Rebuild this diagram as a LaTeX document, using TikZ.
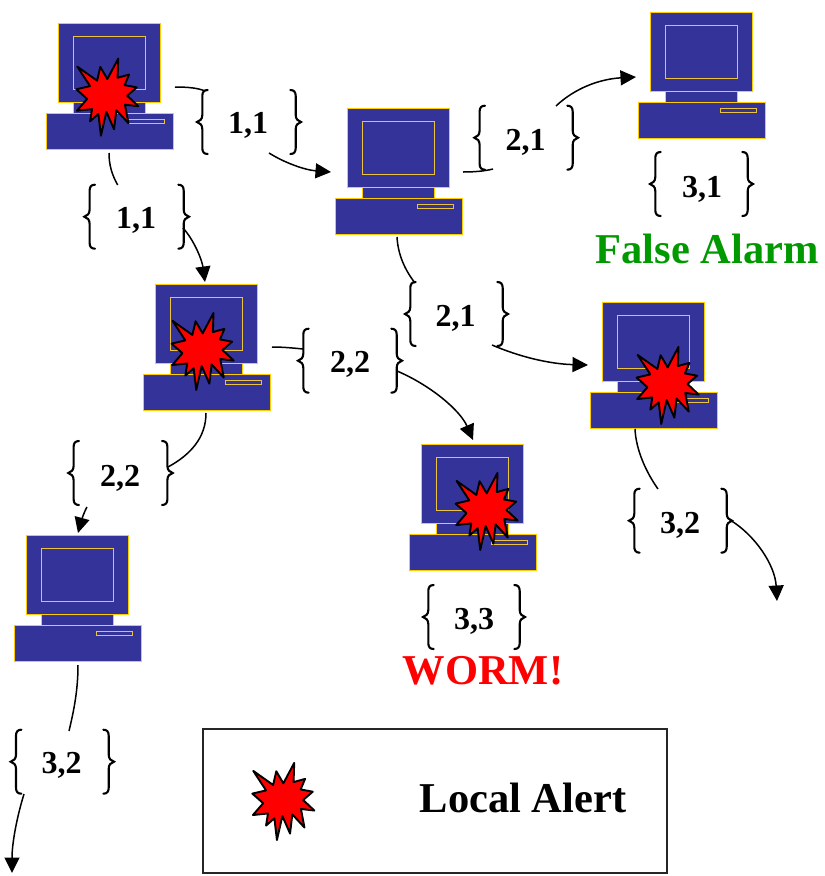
\documentclass[tikz,border=0pt]{standalone}
\usepackage{fontspec}
\setmainfont{Liberation Serif}
\usetikzlibrary{arrows.meta}
\definecolor{pcblue}{RGB}{51,51,153}
\definecolor{pcgold}{RGB}{255,204,0}
\definecolor{screenline}{RGB}{235,195,60}
\definecolor{alarmgreen}{RGB}{0,153,0}
\tikzset{
  pcpart/.style={draw=pcgold,fill=pcblue,line width=0.9pt},
  pcinner/.style={draw=screenline,fill=pcblue,line width=0.6pt},
  burst/.style={draw=black,fill=red,line width=1.9pt,line join=round},
  curlyline/.style={draw=black,line width=2.1pt,line cap=round},
  link/.style={draw=black,line width=1.5pt},
  linkarrow/.style={link,-{Triangle[length=15.5pt,width=15pt]}},
  count/.style={font=\fontsize{32}{36}\selectfont\bfseries,inner sep=0pt,anchor=base},
  banner/.style={font=\fontsize{42.5}{48}\selectfont\bfseries,inner sep=0pt,anchor=base},
  pics/computer/.style={code={
    \path[pcpart] (15,79) rectangle (87,90);
    \path[pcpart] (0,0) rectangle (102,79);
    \path[pcinner] (15,13) rectangle (87,66);
    \path[pcpart] (-12,90) rectangle (115,126);
    \path[pcinner] (70,96) rectangle (106,100);
  }},
  pics/alert/.style={code={
    \begin{scope}[scale=0.32]
    \path[burst] (-92,-91) -- (-30,-47) -- (-20,-90) -- (2,-52) -- (36,-116) -- (34,-56)
      -- (70,-66) -- (56,-33) -- (94,-26) -- (64,0) -- (99,33) -- (57,28) -- (68,86)
      -- (30,45) -- (23,105) -- (-1,50) -- (-18,125) -- (-26,57) -- (-52,80) -- (-46,42)
      -- (-93,47) -- (-61,10) -- (-95,-20) -- (-52,-30) -- cycle;
    \end{scope}
  }},
  pics/curlypair/.style={code={
    \path[curlyline] (10.7,-32) .. controls (7,-32) and (5.3,-30) .. (5.3,-26) -- (5.3,-7)
      .. controls (5.3,-3) and (3,-0.8) .. (0,0) .. controls (3,0.8) and (5.3,3) .. (5.3,7)
      -- (5.3,26) .. controls (5.3,30) and (7,32) .. (10.7,32);
    \path[curlyline] (#1-10.7,-32) .. controls (#1-7,-32) and (#1-5.3,-30) .. (#1-5.3,-26) -- (#1-5.3,-7)
      .. controls (#1-5.3,-3) and (#1-3,-0.8) .. (#1,0) .. controls (#1-3,0.8) and (#1-5.3,3) .. (#1-5.3,7)
      -- (#1-5.3,26) .. controls (#1-5.3,30) and (#1-7,32) .. (#1-10.7,32);
  }},
}
\begin{document}
\begin{tikzpicture}[x=1pt,y=-1pt]
\path[use as bounding box,fill=white] (0,0) rectangle (825,876);
% computers
\pic at (58,23) {computer};
\pic at (347,108) {computer};
\pic at (650,12) {computer};
\pic at (155,284) {computer};
\pic at (602,302) {computer};
\pic at (421,444) {computer};
\pic at (26,535) {computer};
% alerts
\pic at (106.7,95.7) {alert};
\pic at (202,350) {alert};
\pic at (667,384) {alert};
\pic at (486,510) {alert};
\pic at (282.7,800) {alert};
% curly pairs
\pic at (197,122) {curlypair=104};
\pic at (84.3,216.7) {curlypair=104.7};
\pic at (474.3,137.7) {curlypair=103.7};
\pic at (650,184) {curlypair=103};
\pic at (405,314) {curlypair=103};
\pic at (298,360.7) {curlypair=104};
\pic at (68.3,473) {curlypair=104.4};
\pic at (629,520.7) {curlypair=103};
\pic at (423,617) {curlypair=102};
\pic at (10.7,761.7) {curlypair=103.3};
% counts
\node[count] (n1) at (248,133.5) {1,1};
\node[count] (n2) at (136,228) {1,1};
\node[count] (n3) at (525.7,150) {2,1};
\node[count] (n4) at (702,197) {3,1};
\node[count] (n5) at (455.7,326) {2,1};
\node[count] (n6) at (350,372.5) {2,2};
\node[count] (n7) at (120,486.5) {2,2};
\node[count] (n8) at (680,533) {3,2};
\node[count] (n9) at (474,629) {3,3};
\node[count] (n10) at (61.7,773) {3,2};
% banners
\node[banner,text=alarmgreen] (falsealarm) at (707,263) {False Alarm};
\node[banner,text=red] (worm) at (483,684) {WORM!};
% legend
\draw[line width=1.6pt,draw=black!85] (203,729) rectangle (667,873);
\node[banner] (legendtext) at (523,812) {Local Alert};
% connector ends
\coordinate (a1) at (175,87);   \coordinate (a2) at (205,91);
\coordinate (b1) at (269,153);  \coordinate (b2) at (331,172);
\coordinate (c1) at (109,153);  \coordinate (c2) at (117.7,185);
\coordinate (d1) at (183,228);  \coordinate (d2) at (205,282);
\coordinate (e1) at (463,172);  \coordinate (e2) at (493,169);
\coordinate (f1) at (556,106);  \coordinate (f2) at (636,77);
\coordinate (g1) at (397,237);  \coordinate (g2) at (415,283);
\coordinate (h1) at (492,345);  \coordinate (h2) at (588,365);
\coordinate (i1) at (272,347);  \coordinate (i2) at (303,349);
\coordinate (j1) at (397,371);  \coordinate (j2) at (473,440);
\coordinate (k1) at (206,413);  \coordinate (k2) at (168,467);
\coordinate (l1) at (87,507);   \coordinate (l2) at (78,533);
\coordinate (m1) at (635,429);  \coordinate (m2) at (658,489);
\coordinate (o1) at (730,520);  \coordinate (o2) at (777,601);
\coordinate (p1) at (78,665);   \coordinate (p2) at (69,731);
\coordinate (q1) at (24,794);   \coordinate (q2) at (12,873);
% connectors
\draw[link] (a1) .. controls (188,87) and (198,88) .. (a2);
\draw[linkarrow] (b1) .. controls (285,163) and (305,170) .. (b2);
\draw[link] (c1) .. controls (109,165) and (112,175) .. (c2);
\draw[linkarrow] (d1) .. controls (194,240) and (202,260) .. (d2);
\draw[link] (e1) .. controls (475,172) and (485,171) .. (e2);
\draw[linkarrow] (f1) .. controls (575,88) and (600,79) .. (f2);
\draw[link] (g1) .. controls (398,255) and (405,270) .. (g2);
\draw[linkarrow] (h1) .. controls (520,357) and (550,364) .. (h2);
\draw[link] (i1) .. controls (283,347) and (293,348) .. (i2);
\draw[linkarrow] (j1) .. controls (430,385) and (460,410) .. (j2);
\draw[link] (k1) .. controls (206,438) and (190,455) .. (k2);
\draw[linkarrow] (l1) .. controls (84,512) and (81,522) .. (l2);
\draw[link] (m1) .. controls (636,450) and (646,472) .. (m2);
\draw[linkarrow] (o1) .. controls (755,535) and (775,565) .. (o2);
\draw[link] (p1) .. controls (78,690) and (74,710) .. (p2);
\draw[linkarrow] (q1) .. controls (16,820) and (12,845) .. (q2);
\end{tikzpicture}
\end{document}
